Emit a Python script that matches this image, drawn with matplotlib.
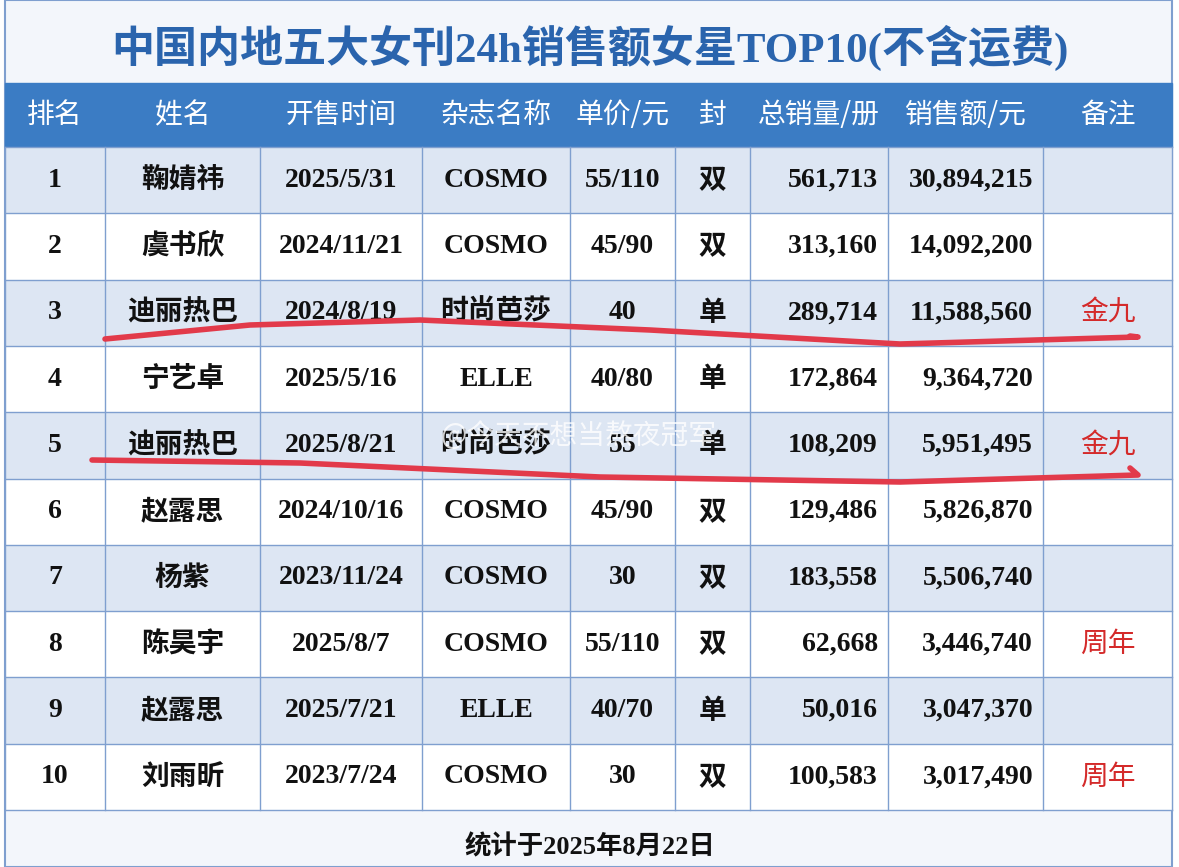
import matplotlib.pyplot as plt
from matplotlib.patches import Rectangle

# table content
title = "中国内地五大女刊24h销售额女星TOP10(不含运费)"
headers = ["排名", "姓名", "开售时间", "杂志名称", "单价/元", "封", "总销量/册", "销售额/元", "备注"]
ranks = ["1", "2", "3", "4", "5", "6", "7", "8", "9", "10"]
names = ["鞠婧祎", "虞书欣", "迪丽热巴", "宁艺卓", "迪丽热巴", "赵露思", "杨紫", "陈昊宇", "赵露思", "刘雨昕"]
dates = ["2025/5/31", "2024/11/21", "2024/8/19", "2025/5/16", "2025/8/21",
         "2024/10/16", "2023/11/24", "2025/8/7", "2025/7/21", "2023/7/24"]
mags = ["COSMO", "COSMO", "时尚芭莎", "ELLE", "时尚芭莎", "COSMO", "COSMO", "COSMO", "ELLE", "COSMO"]
prices = ["55/110", "45/90", "40", "40/80", "55", "45/90", "30", "55/110", "40/70", "30"]
covers = ["双", "双", "单", "单", "单", "双", "双", "双", "单", "双"]
volumes = ["561,713", "313,160", "289,714", "172,864", "108,209", "129,486", "183,558", "62,668", "50,016", "100,583"]
revenue = ["30,894,215", "14,092,200", "11,588,560", "9,364,720", "5,951,495",
           "5,826,870", "5,506,740", "3,446,740", "3,047,370", "3,017,490"]
notes = ["", "", "金九", "", "金九", "", "", "周年", "", "周年"]
footer = "统计于2025年8月22日"
watermark = "@今天不想当熬夜冠军"

W, H = 1179, 867
col_edges = [5, 105, 260, 422, 570, 675, 750, 888, 1043, 1172]
head_top, head_bot = 83, 147
row_h = (810 - head_bot) / 10

fig = plt.figure(figsize=(W / 100, H / 100), dpi=100)
ax = fig.add_axes([0, 0, 1, 1])
ax.set_xlim(0, W)
ax.set_ylim(H, 0)
ax.axis('off')

fam = ['Liberation Serif', 'Noto Sans CJK SC']
cjk = ['Noto Sans CJK SC']
blue = '#2f6db5'
line_c = '#7f9fcf'

ax.add_patch(Rectangle((0, 0), W, H, color='white', zorder=0))
ax.add_patch(Rectangle((col_edges[0], 0), col_edges[-1] - col_edges[0], H,
                       facecolor='#f3f6fb', edgecolor=line_c, lw=1.5, zorder=0.5))
ax.text(590, 48, title, ha='center', va='center', fontsize=31, fontweight='bold',
        color='#2a64ad', family=fam)

# header band
ax.add_patch(Rectangle((col_edges[0], head_top), col_edges[-1] - col_edges[0],
                       head_bot - head_top, color='#3b7cc4', zorder=1))
for i, h in enumerate(headers):
    xc = (col_edges[i] + col_edges[i + 1]) / 2
    ax.text(xc, (head_top + head_bot) / 2, h, ha='center', va='center',
            fontsize=20, color='white', family=cjk)

cols = [ranks, names, dates, mags, prices, covers, volumes, revenue, notes]
for r in range(10):
    y0 = head_bot + r * row_h
    fc = '#dde6f3' if r % 2 == 0 else 'white'
    ax.add_patch(Rectangle((col_edges[0], y0), col_edges[-1] - col_edges[0], row_h,
                           facecolor=fc, edgecolor='none', zorder=1))
    yc = y0 + row_h / 2
    for c, vals in enumerate(cols):
        txt = vals[r]
        if not txt:
            continue
        if c in (6, 7):
            x = col_edges[c + 1] - 10
            ha = 'right'
        else:
            x = (col_edges[c] + col_edges[c + 1]) / 2
            ha = 'center'
        color = '#d42a2a' if c == 8 else '#111111'
        weight = 'normal' if c == 8 else 'bold'
        ax.text(x, yc, txt, ha=ha, va='center', fontsize=20, fontweight=weight,
                color=color, family=cjk if c in (1, 5, 8) else fam, zorder=3)

# grid lines
for k in range(11):
    y = head_bot + k * row_h
    ax.plot([col_edges[0], col_edges[-1]], [y, y], color=line_c, lw=1, zorder=2)
for x in col_edges:
    ax.plot([x, x], [head_bot, 810], color=line_c, lw=1, zorder=2)

ax.text(590, 847, footer, ha='center', va='center', fontsize=19, fontweight='bold',
        color='#111111', family=fam)

# hand-drawn red underlines
ax.plot([105, 250, 420, 650, 900, 1138, 1130], [339, 325, 320, 330, 344, 337, 336],
        color='#e23a4a', lw=4, solid_capstyle='round', zorder=4)
ax.plot([92, 300, 600, 900, 1138, 1130], [460, 463, 477, 482, 475, 468],
        color='#e23a4a', lw=4, solid_capstyle='round', zorder=4)

ax.text(440, 437, watermark, ha='left', va='center', fontsize=20, color='white',
        alpha=0.8, family=cjk, zorder=5)

fig.savefig('out.png', dpi=100)
